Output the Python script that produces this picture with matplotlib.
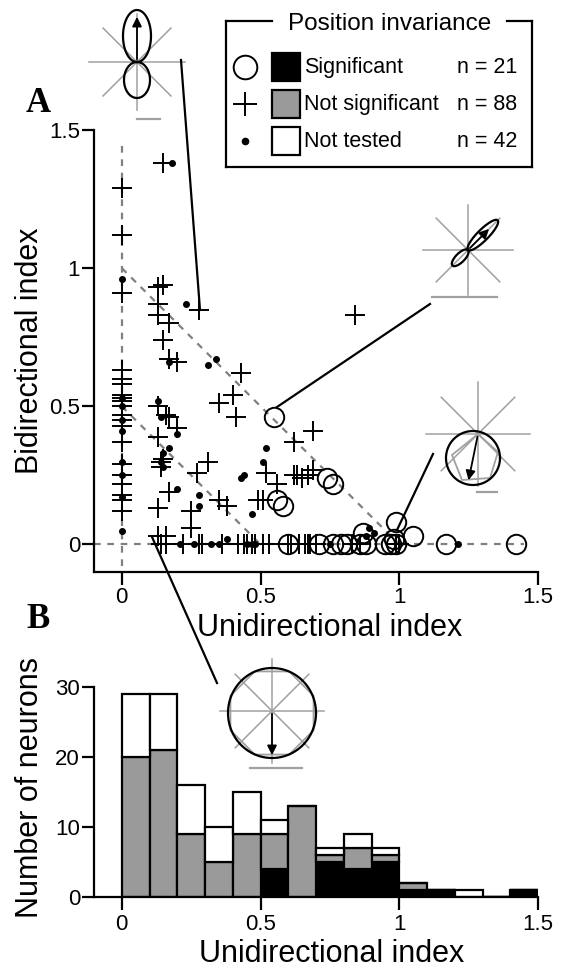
import numpy as np
import matplotlib.pyplot as plt
from matplotlib.patches import Rectangle, Polygon

plt.rcParams['font.family'] = ['Liberation Sans', 'DejaVu Sans']

W, H = 561, 969

# ---- panel A: scatter (unidirectional index, bidirectional index) ----
# significant (circles)
sig_x = [0.55, 0.56, 0.58, 0.60, 0.74, 0.76, 0.71, 0.76, 0.79, 0.81, 0.86,
         0.88, 0.87, 0.95, 0.97, 0.99, 0.99, 0.98, 1.05, 1.17, 1.42]
sig_y = [0.46, 0.16, 0.14, 0.00, 0.24, 0.22, 0.00, 0.00, 0.00, 0.00, 0.00,
         0.00, 0.04, 0.00, 0.00, 0.00, 0.08, 0.02, 0.03, 0.00, 0.00]

# not significant (pluses)
ns_x = [0.00, 0.00, 0.00, 0.00, 0.00, 0.00, 0.00, 0.00, 0.00, 0.00, 0.00,
        0.00, 0.00, 0.00, 0.00, 0.00, 0.00, 0.00, 0.00, 0.00,
        0.15, 0.15, 0.13, 0.13, 0.13, 0.17, 0.15, 0.17, 0.13, 0.16, 0.13,
        0.14, 0.14, 0.17, 0.13, 0.14, 0.16, 0.13, 0.16, 0.17, 0.15,
        0.28, 0.20, 0.20, 0.27, 0.25, 0.25, 0.29, 0.28, 0.22,
        0.35, 0.31, 0.35, 0.38, 0.36,
        0.43, 0.40, 0.41, 0.44, 0.47, 0.45, 0.48, 0.49, 0.42,
        0.52, 0.51, 0.56, 0.51, 0.53,
        0.62, 0.62, 0.65, 0.69, 0.69, 0.66, 0.67, 0.68, 0.64, 0.61, 0.63,
        0.67, 0.60,
        0.70, 0.84, 0.83, 0.86, 0.99, 1.00]
ns_y = [1.29, 1.12, 0.91, 0.63, 0.58, 0.54, 0.53, 0.50, 0.47, 0.43, 0.37,
        0.29, 0.25, 0.22, 0.18, 0.16, 0.12, 0.60, 0.52, 0.45,
        1.38, 0.94, 0.93, 0.87, 0.83, 0.80, 0.74, 0.67, 0.50, 0.47, 0.39,
        0.30, 0.28, 0.19, 0.13, 0.00, 0.00, 0.03, 0.03, 0.46, 0.31,
        0.85, 0.66, 0.42, 0.26, 0.12, 0.06, 0.00, 0.00, 0.00,
        0.51, 0.30, 0.16, 0.14, 0.00,
        0.62, 0.54, 0.46, 0.00, 0.00, 0.00, 0.00, 0.16, 0.00,
        0.26, 0.16, 0.22, 0.00, 0.00,
        0.37, 0.25, 0.24, 0.27, 0.41, 0.00, 0.00, 0.00, 0.00, 0.00, 0.25,
        0.25, 0.00,
        0.00, 0.83, 0.00, 0.00, 0.00, 0.00]

# not tested (dots)
nt_x = [0.00, 0.00, 0.00, 0.00, 0.00, 0.00, 0.00, 0.00, 0.00,
        0.18, 0.17, 0.13, 0.14, 0.17, 0.15, 0.14, 0.15,
        0.23, 0.20, 0.20, 0.28, 0.28, 0.26, 0.21,
        0.31, 0.34, 0.38, 0.32, 0.35,
        0.43, 0.47, 0.47, 0.44, 0.45, 0.48,
        0.52, 0.51, 0.75, 0.89, 0.88, 0.91, 1.21]
nt_y = [0.96, 0.53, 0.50, 0.41, 0.30, 0.25, 0.17, 0.45, 0.05,
        1.38, 0.66, 0.52, 0.46, 0.35, 0.33, 0.30, 0.28,
        0.87, 0.40, 0.20, 0.18, 0.14, 0.00, 0.00,
        0.65, 0.67, 0.02, 0.00, 0.00,
        0.24, 0.11, 0.00, 0.25, 0.00, 0.00,
        0.35, 0.30, 0.00, 0.06, 0.03, 0.04, 0.00]

# ---- panel B: stacked histogram, bins of 0.1 ----
bin_left = [0.0, 0.1, 0.2, 0.3, 0.4, 0.5, 0.6, 0.7, 0.8, 0.9, 1.0, 1.1, 1.2, 1.3, 1.4]
hist_sig = [0, 0, 0, 0, 0, 4, 0, 5, 4, 5, 1, 1, 0, 0, 1]
hist_ns = [20, 21, 9, 5, 9, 5, 13, 1, 3, 1, 1, 0, 0, 0, 0]
hist_nt = [9, 8, 7, 5, 6, 2, 0, 1, 2, 1, 0, 0, 1, 0, 0]

legend_labels = ['Significant', 'Not significant', 'Not tested']
legend_n = [21, 88, 42]
legend_colors = ['black', '#9a9a9a', 'white']

fig = plt.figure(figsize=(W / 100, H / 100), dpi=100)


def frac(x0, y0, x1, y1):
    return [x0 / W, 1 - y1 / H, (x1 - x0) / W, (y1 - y0) / H]


def style_axes(ax):
    for s in ['top', 'right']:
        ax.spines[s].set_visible(False)
    for s in ['left', 'bottom']:
        ax.spines[s].set_linewidth(1.6)
    ax.tick_params(length=9, width=1.6, labelsize=16)
    ax.tick_params(axis='x', pad=3)
    ax.tick_params(axis='y', pad=1)


# panel A
ax1 = fig.add_axes(frac(94, 130, 538, 572))
ax1.set_xlim(-0.1, 1.5)
ax1.set_ylim(-0.1, 1.5)
style_axes(ax1)
ax1.tick_params(axis='x', pad=2)
ax1.set_xticks([0, 0.5, 1, 1.5], ['0', '0.5', '1', '1.5'])
ax1.set_yticks([0, 0.5, 1, 1.5], ['0', '0.5', '1', '1.5'])

ref = dict(color='#808080', lw=1.6, ls=(0, (3, 3)), zorder=1)
ax1.plot([0, 0], [-0.08, 1.45], **ref)
ax1.plot([-0.1, 1.45], [0, 0], **ref)
ax1.plot([0, 1], [1, 0], **ref)
ax1.plot([0, 0.5], [0.5, 0], **ref)

ax1.plot(ns_x, ns_y, '+', ls='none', ms=15, mew=1.4, color='k', zorder=3)
ax1.plot(sig_x, sig_y, 'o', ls='none', ms=14, mfc='none', mec='k', mew=1.4, zorder=3)
ax1.plot(nt_x, nt_y, 'o', ls='none', ms=4, color='k', zorder=4)

# panel B
ax2 = fig.add_axes(frac(94, 687, 538, 897))
ax2.set_xlim(-0.1, 1.5)
ax2.set_ylim(0, 30)
style_axes(ax2)
ax2.set_xticks([0, 0.5, 1, 1.5], ['0', '0.5', '1', '1.5'])
ax2.set_yticks([0, 10, 20, 30])

sig = np.array(hist_sig)
ns = np.array(hist_ns)
nt = np.array(hist_nt)
bar = dict(width=0.1, align='edge', edgecolor='k', linewidth=1.6)
ax2.bar(bin_left, sig, color=legend_colors[0], **bar)
ax2.bar(bin_left, ns, bottom=sig, color=legend_colors[1], **bar)
ax2.bar(bin_left, nt, bottom=sig + ns, color=legend_colors[2], **bar)

# overlay in pixel coordinates for labels, legend and insets
ov = fig.add_axes([0, 0, 1, 1])
ov.set_xlim(0, W)
ov.set_ylim(H, 0)
ov.axis('off')

ov.text(30, 351, 'Bidirectional index', rotation=90, fontsize=22, ha='center', va='center')
ov.text(330, 628, 'Unidirectional index', fontsize=22, ha='center', va='center')
ov.text(30, 788, 'Number of neurons', rotation=90, fontsize=22, ha='center', va='center')
ov.text(332, 954, 'Unidirectional index', fontsize=22, ha='center', va='center')
ov.text(38, 103, 'A', family='Liberation Serif', weight='bold', fontsize=25, ha='center', va='center')
ov.text(38, 620, 'B', family='Liberation Serif', weight='bold', fontsize=25, ha='center', va='center')

# legend box
lk = dict(color='k', lw=1.6)
ov.plot([226, 272], [21, 21], **lk)
ov.plot([507, 532], [21, 21], **lk)
ov.plot([226, 226], [21, 167], **lk)
ov.plot([532, 532], [21, 167], **lk)
ov.plot([226, 532], [167, 167], **lk)
ov.text(390, 24, 'Position invariance', fontsize=17.5, ha='center', va='center')
rows = [67, 104, 141]
ov.plot(245, rows[0], 'o', ms=17, mfc='none', mec='k', mew=1.4)
ov.plot(245, rows[1], '+', ms=17, mew=1.4, color='k')
ov.plot(245, rows[2], 'o', ms=4.5, color='k')
for r, lab, n, c in zip(rows, legend_labels, legend_n, legend_colors):
    ov.add_patch(Rectangle((272, r - 14), 28, 28, facecolor=c, edgecolor='k', lw=1.6))
    ov.text(304, r, lab, fontsize=15.5, ha='left', va='center')
    ov.text(457, r, 'n = %d' % n, fontsize=15.5, ha='left', va='center')

gray = '#a0a0a0'


def spokes(cx, cy, L):
    for a in [0, 45, 90, 135]:
        t = np.deg2rad(a)
        ov.plot([cx - L * np.cos(t), cx + L * np.cos(t)],
                [cy - L * np.sin(t), cy + L * np.sin(t)], color=gray, lw=1.1)


def lobe(cx, cy, ang, length, width, **kw):
    t = np.linspace(0, 2 * np.pi, 80)
    u = length / 2 * (1 - np.cos(t))
    v = width / 2 * np.sin(t)
    a = np.deg2rad(ang)
    x = cx + u * np.cos(a) - v * np.sin(a)
    y = cy - (u * np.sin(a) + v * np.cos(a))
    ov.plot(x, y, **kw)


def arrow(x0, y0, x1, y1):
    ov.annotate('', xy=(x1, y1), xytext=(x0, y0),
                arrowprops=dict(arrowstyle='-|>', color='k', lw=1.3, mutation_scale=14))


blk = dict(color='k', lw=1.6)

# inset 1 (vertical figure-eight)
spokes(137, 62, 48)
lobe(137, 62, 90, 52, 28, **blk)
lobe(137, 62, 270, 36, 26, **blk)
arrow(137, 62, 137, 14)
ov.plot([137, 160], [119, 119], color=gray, lw=1.6)
ov.plot([181, 200], [60, 310], **blk)

# inset 2 (bidirectional diagonal lobe)
spokes(468, 250, 45)
lobe(468, 250, 45, 42, 11, **blk)
lobe(468, 250, 225, 22, 9, **blk)
arrow(468, 250, 491, 227)
ov.plot([432, 497], [297, 297], color=gray, lw=1.6)
ov.plot([430, 277], [304, 407], **blk)

# inset 3 (unidirectional circle pointing down)
spokes(478, 434, 52)
tt = np.linspace(0, 2 * np.pi, 100)
ov.plot(473 + 27 * np.cos(tt), 458 + 27 * np.sin(tt), **blk)
ov.add_patch(Polygon([[478, 434], [452, 455], [462, 480], [490, 478], [498, 452]],
                     closed=True, fill=False, edgecolor=gray, lw=1.3))
arrow(478, 434, 468, 483)
ov.plot([477, 497], [492, 492], color=gray, lw=1.6)
ov.plot([433, 397], [454, 530], **blk)

# inset 4 (isotropic circle)
spokes(272, 711, 52)
oct_a = np.deg2rad(np.arange(0, 360, 45) + 22.5)
ov.add_patch(Polygon(np.c_[272 + 45 * np.cos(oct_a), 713 + 45 * np.sin(oct_a)],
                     closed=True, fill=False, edgecolor=gray, lw=1.3))
ov.plot(272 + 44 * np.cos(tt), 713 + 45 * np.sin(tt), **blk)
arrow(272, 711, 272, 758)
ov.plot([250, 302], [768, 768], color=gray, lw=1.6)
ov.plot([152, 217], [537, 683], **blk)

fig.savefig('out.png', dpi=100)
